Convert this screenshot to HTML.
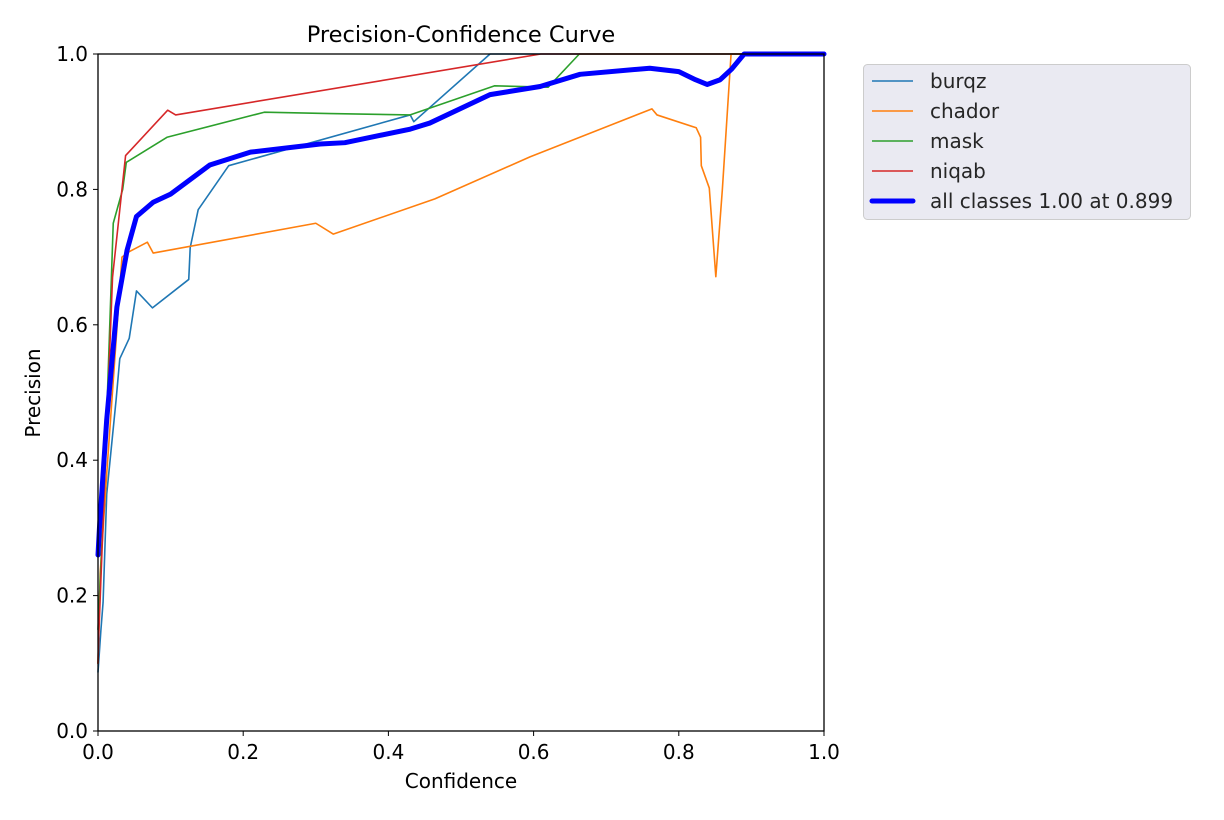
<!DOCTYPE html>
<html><head><meta charset="utf-8"><style>
body{margin:0;background:#fff;font-family:"DejaVu Sans","Liberation Sans",sans-serif;}
svg text{font-family:"DejaVu Sans","Liberation Sans",sans-serif;fill:#000;}
</style></head><body>
<svg id="chart" width="1224" height="816" viewBox="0 0 1224 816">
<rect x="0" y="0" width="1224" height="816" fill="#fff"/>
<text x="461" y="42" font-size="22.5" text-anchor="middle">Precision-Confidence Curve</text>
<g id="series"></g>
<rect x="98" y="54" width="726" height="677" fill="none" stroke="#000" stroke-width="1.3"/>
<g id="ticks"></g>
<text x="461" y="788" font-size="20" text-anchor="middle">Confidence</text>
<text x="40" y="393" font-size="20" text-anchor="middle" transform="rotate(-90 40 393)">Precision</text>
<g>
<rect x="863.5" y="64.5" width="327" height="155" rx="4" fill="#eaeaf2" stroke="#cccccc" stroke-width="1"/>
<g id="legend"></g>
</g>
</svg>
<script>
const ticks = [0, 0.2, 0.4, 0.6, 0.8, 1.0];
const tickLabels = ["0.0", "0.2", "0.4", "0.6", "0.8", "1.0"];
const names = ["burqz", "chador", "mask", "niqab", "all classes 1.00 at 0.899"];
const colors = ["#1f77b4", "#ff7f0e", "#2ca02c", "#d62728", "#0000ff"];
const burqzX = [0,0.004,0.007,0.012,0.025,0.03,0.043,0.053,0.075,0.125,0.127,0.138,0.18,0.43,0.435,0.54,1];
const burqzY = [0.087,0.149,0.19,0.35,0.49,0.55,0.58,0.65,0.625,0.667,0.714,0.77,0.835,0.91,0.9,1,1];
const chadorX = [0,0.003,0.012,0.033,0.043,0.068,0.076,0.3,0.324,0.464,0.595,0.763,0.77,0.824,0.83,0.831,0.842,0.851,0.86,0.872,1];
const chadorY = [0.1,0.233,0.38,0.7,0.708,0.722,0.706,0.75,0.734,0.786,0.848,0.919,0.91,0.891,0.877,0.835,0.802,0.671,0.8,1,1];
const maskX = [0,0.008,0.014,0.021,0.034,0.039,0.095,0.229,0.32,0.43,0.546,0.62,0.663,1];
const maskY = [0.15,0.34,0.53,0.75,0.8,0.84,0.877,0.914,0.912,0.91,0.953,0.951,1,1];
const niqabX = [0,0.001,0.02,0.038,0.096,0.107,0.61,1];
const niqabY = [0.1,0.14,0.67,0.85,0.917,0.91,1,1];
const allX = [0,0.002,0.012,0.026,0.04,0.053,0.076,0.1,0.154,0.21,0.306,0.34,0.43,0.457,0.54,0.609,0.664,0.76,0.8,0.823,0.839,0.857,0.873,0.89,1];
const allY = [0.26,0.3,0.46,0.626,0.71,0.76,0.781,0.793,0.836,0.855,0.867,0.869,0.889,0.898,0.94,0.952,0.97,0.979,0.974,0.962,0.955,0.962,0.978,1,1];

const NS = "http://www.w3.org/2000/svg";
const sx = v => 98 + v * 726;
const sy = v => 731 - v * 677;
const tg = document.getElementById("ticks");
ticks.forEach((t, i) => {
  const lx = document.createElementNS(NS, "line");
  lx.setAttribute("x1", sx(t)); lx.setAttribute("x2", sx(t));
  lx.setAttribute("y1", 731); lx.setAttribute("y2", 736);
  lx.setAttribute("stroke", "#000");
  
  
  tg.appendChild(lx);
  const tx = document.createElementNS(NS, "text");
  tx.setAttribute("x", sx(t)); tx.setAttribute("y", 759);
  tx.setAttribute("font-size", "20"); tx.setAttribute("text-anchor", "middle");
  tx.textContent = tickLabels[i];
  
  
  tg.appendChild(tx);
  const ly = document.createElementNS(NS, "line");
  ly.setAttribute("x1", 93); ly.setAttribute("x2", 98);
  ly.setAttribute("y1", sy(t)); ly.setAttribute("y2", sy(t));
  ly.setAttribute("stroke", "#000");
  
  
  tg.appendChild(ly);
  const ty = document.createElementNS(NS, "text");
  ty.setAttribute("x", 88); ty.setAttribute("y", sy(t) + 7);
  ty.setAttribute("font-size", "20"); ty.setAttribute("text-anchor", "end");
  ty.textContent = tickLabels[i];
  
  
  tg.appendChild(ty);
});
const sg = document.getElementById("series");
const data = [[burqzX, burqzY], [chadorX, chadorY], [maskX, maskY], [niqabX, niqabY], [allX, allY]];
const sNames = ["burqz-line", "chador-line", "mask-line", "niqab-line", "all-classes-line"];
data.forEach((d, i) => {
  const p = document.createElementNS(NS, "polyline");
  p.setAttribute("points", d[0].map((x, j) => sx(x) + "," + sy(d[1][j])).join(" "));
  p.setAttribute("fill", "none");
  p.setAttribute("stroke", colors[i]);
  p.setAttribute("stroke-width", i === 4 ? 5 : 1.6);
  p.setAttribute("stroke-linejoin", "round");
  p.setAttribute("stroke-linecap", "round");
  
  
  sg.appendChild(p);
});
const lg = document.getElementById("legend");
names.forEach((n, i) => {
  const y = 81 + i * 30;
  const l = document.createElementNS(NS, "line");
  l.setAttribute("x1", 872); l.setAttribute("x2", 913);
  l.setAttribute("y1", y); l.setAttribute("y2", y);
  l.setAttribute("stroke", colors[i]);
  l.setAttribute("stroke-width", i === 4 ? 5 : 1.6);
  l.setAttribute("stroke-linecap", i === 4 ? "round" : "butt");
  
  
  lg.appendChild(l);
  const t = document.createElementNS(NS, "text");
  t.setAttribute("x", 930); t.setAttribute("y", y + 7);
  t.setAttribute("font-size", "20");
  t.setAttribute("style", "fill:#262626");
  t.textContent = n;
  
  
  lg.appendChild(t);
});
</script>
</body></html>
